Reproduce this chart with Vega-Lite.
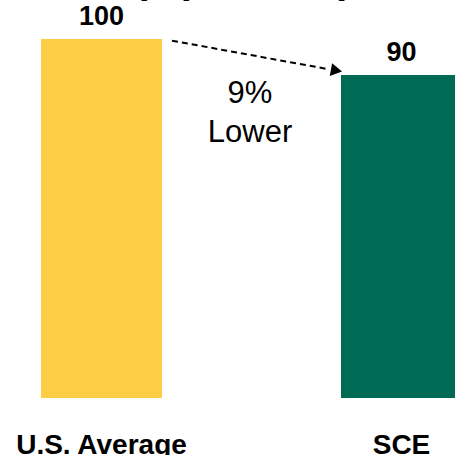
{
  "$schema": "https://vega.github.io/schema/vega-lite/v6.json",
  "width": 455,
  "height": 398,
  "autosize": {"type": "none"},
  "padding": {"left": 0, "top": 0, "right": 0, "bottom": 57},
  "config": {"view": {"stroke": null}, "font": "Liberation Sans"},
  "datasets": {
    "bars": [
      {"region": "U.S. Average", "rate": 100},
      {"region": "SCE", "rate": 90}
    ],
    "note": [
      {"from": "U.S. Average", "to": "SCE", "start": 100, "end": 90, "label": ["9%", "Lower"], "unit": "(¢ per kWh)"}
    ]
  },
  "layer": [
    {
      "data": {"name": "bars"},
      "mark": {"type": "bar"},
      "encoding": {
        "x": {
          "field": "region",
          "type": "nominal",
          "sort": null,
          "scale": {"domain": ["U.S. Average", "SCE"], "range": [0, 503], "paddingInner": 0.5967, "paddingOuter": 0.1367},
          "axis": {
            "title": null,
            "domain": false,
            "ticks": false,
            "labelAngle": 0,
            "labelFontSize": 28,
            "labelFontWeight": "bold",
            "labelFont": "Liberation Sans",
            "labelColor": "black",
            "labelBaseline": "alphabetic",
            "labelPadding": 55,
            "labelLimit": 400
          }
        },
        "y": {"field": "rate", "type": "quantitative", "scale": {"domain": [0, 110.86], "nice": false, "zero": true}, "axis": null},
        "color": {
          "field": "region",
          "type": "nominal",
          "scale": {"domain": ["U.S. Average", "SCE"], "range": ["#FECD46", "#006B54"]},
          "legend": null
        }
      }
    },
    {
      "data": {"name": "bars"},
      "mark": {"type": "text", "dy": -14, "baseline": "alphabetic", "fontSize": 27, "fontWeight": "bold", "color": "black"},
      "encoding": {
        "x": {"field": "region", "type": "nominal", "sort": null},
        "y": {"field": "rate", "type": "quantitative"},
        "text": {"field": "rate"}
      }
    },
    {
      "data": {"name": "note"},
      "mark": {"type": "text", "xOffset": 141.5, "baseline": "alphabetic", "align": "center", "fontSize": 40, "fontWeight": "bold", "color": "black"},
      "encoding": {
        "x": {"field": "from", "type": "nominal"},
        "y": {"datum": 112.8, "type": "quantitative"},
        "text": {"field": "unit"}
      }
    },
    {
      "data": {"name": "note"},
      "mark": {"type": "rule", "strokeDash": [6, 4], "strokeWidth": 2, "color": "black", "xOffset": 70.5, "x2Offset": -72.5, "yOffset": 1.7, "y2Offset": -5.6},
      "encoding": {
        "x": {"field": "from", "type": "nominal"},
        "x2": {"field": "to"},
        "y": {"field": "start", "type": "quantitative"},
        "y2": {"field": "end"}
      }
    },
    {
      "data": {"name": "note"},
      "mark": {"type": "point", "shape": "triangle-right", "filled": true, "size": 170, "angle": 10.3, "color": "black", "opacity": 1, "xOffset": -65, "yOffset": -4.3},
      "encoding": {
        "x": {"field": "to", "type": "nominal"},
        "y": {"field": "end", "type": "quantitative"}
      }
    },
    {
      "data": {"name": "note"},
      "mark": {"type": "text", "xOffset": 148.5, "dy": 28, "baseline": "alphabetic", "align": "center", "fontSize": 31, "lineHeight": 39, "color": "black"},
      "encoding": {
        "x": {"field": "from", "type": "nominal"},
        "y": {"field": "end", "type": "quantitative"},
        "text": {"field": "label"}
      }
    }
  ]
}
